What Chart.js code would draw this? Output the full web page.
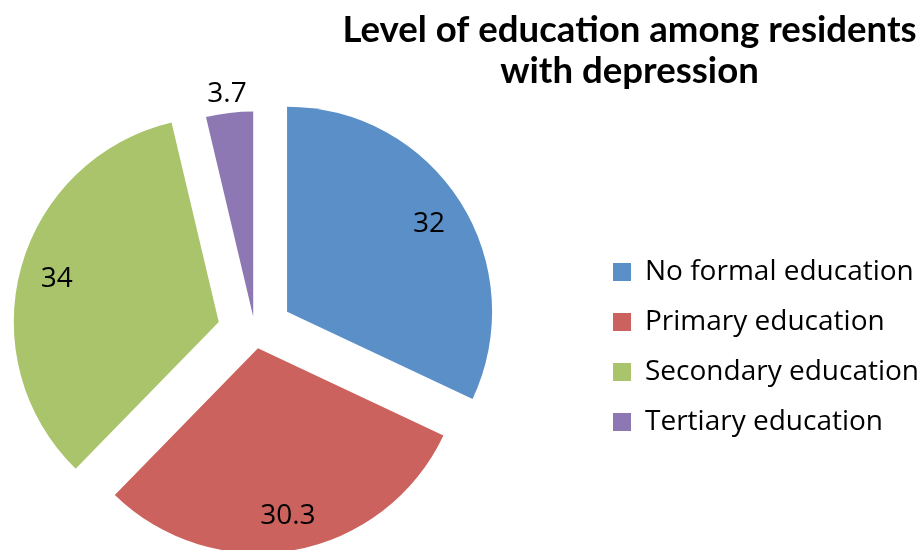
<!DOCTYPE html>
<html lang="en">
<head>
  <meta charset="UTF-8">
  <title>Level of education among residents with depression</title>
  <script src="https://cdn.jsdelivr.net/npm/chart.js"></script>
  <style>
    html, body { margin: 0; padding: 0; background: #fff; overflow: hidden; }
    #page { position: relative; width: 920px; height: 550px; overflow: hidden; }
    #wrap { position: absolute; top: 0; height: 550px; }
  </style>
</head>
<body>
  <div id="page"><div id="wrap"><canvas id="eduChart"></canvas></div></div>

  <script>
    const categories = ['No formal education', 'Primary education', 'Secondary education', 'Tertiary education'];
    const values = [32, 30.3, 34, 3.7];
    const titleLines = ['Level of education among residents', 'with depression'];
    const colors = ['#5b8fc7', '#cc625d', '#a9c46a', '#8d78b3'];
    // how far each slice is pulled out of the pie (px)
    const explode = [38, 16.5, 37.6, 15.5];

    const FONT = '"Open Sans", sans-serif';
    Chart.defaults.font.family = FONT;

    // the pie sits left of the legend and is wider than the room Chart.js gives it,
    // so the canvas starts a bit left of the page
    const shift = 81.5;
    const legendFont = 28, legendPad = 22, legendBox = 18;
    const measure = document.createElement('canvas').getContext('2d');
    measure.font = legendFont + 'px ' + FONT;
    const longest = Math.max(...categories.map(c => measure.measureText(c).width));
    const legendWidth = legendPad + legendBox + legendFont / 2 + longest + 10;
    const wrap = document.getElementById('wrap');
    wrap.style.left = -shift + 'px';
    wrap.style.width = Math.ceil(672 + legendWidth) + 'px';

    // push every slice out along its middle angle
    const explodePlugin = {
      id: 'explode',
      afterDatasetUpdate(chart, args) {
        args.meta.data.forEach((arc, i) => {
          const mid = (arc.startAngle + arc.endAngle) / 2;
          arc.x += Math.cos(mid) * explode[i];
          arc.y += Math.sin(mid) * explode[i];
        });
      }
    };

    // value labels, inside the slice, small slices outside
    const valueLabels = {
      id: 'valueLabels',
      afterDatasetsDraw(chart) {
        const ctx = chart.ctx;
        const meta = chart.getDatasetMeta(0);
        const total = values.reduce((a, b) => a + b, 0);
        const size = 28;
        ctx.save();
        ctx.font = size + 'px ' + FONT;
        ctx.fillStyle = '#000';
        ctx.textAlign = 'center';
        ctx.textBaseline = 'alphabetic';
        meta.data.forEach((arc, i) => {
          const mid = (arc.startAngle + arc.endAngle) / 2;
          const r = values[i] / total < 0.05 ? arc.outerRadius + 21 : arc.outerRadius * 0.82;
          const x = arc.x + Math.cos(mid) * r;
          const y = arc.y + Math.sin(mid) * r;
          ctx.fillText(String(values[i]), x, y + size * 0.357);
        });
        ctx.restore();
      }
    };

    // title sits top right, over the legend side
    const sideTitle = {
      id: 'sideTitle',
      afterDraw(chart) {
        const ctx = chart.ctx;
        ctx.save();
        ctx.font = 'bold 36.6px Lato, ' + FONT;
        ctx.fillStyle = '#000';
        ctx.textAlign = 'center';
        ctx.textBaseline = 'alphabetic';
        titleLines.forEach((t, i) => ctx.fillText(t, 629 + shift, 42 + i * 41));
        ctx.restore();
      }
    };

    new Chart(document.getElementById('eduChart'), {
      type: 'pie',
      data: {
        labels: categories,
        datasets: [{
          data: values,
          backgroundColor: colors,
          borderWidth: 0,
          radius: 205,
          clip: false
        }]
      },
      options: {
        responsive: true,
        maintainAspectRatio: false,
        animation: false,
        events: [],
        layout: { padding: { left: 0, right: 0, top: 206, bottom: 92 } },
        plugins: {
          title: { display: false },
          tooltip: { enabled: false },
          legend: {
            position: 'right',
            align: 'end',
            labels: {
              boxWidth: legendBox,
              boxHeight: legendBox,
              padding: legendPad,
              color: '#000',
              font: { family: FONT, size: legendFont }
            }
          }
        }
      },
      plugins: [explodePlugin, valueLabels, sideTitle]
    });
  </script>
</body>
</html>
